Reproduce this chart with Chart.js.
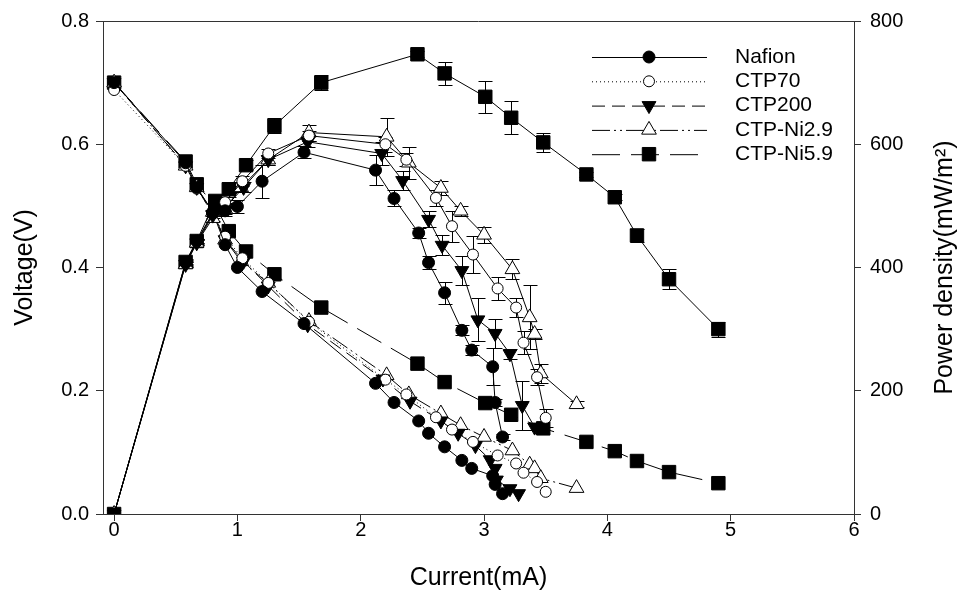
<!DOCTYPE html>
<html>
<head>
<meta charset="utf-8">
<script src="https://cdn.jsdelivr.net/npm/chart.js@4.4.0/dist/chart.umd.min.js"></script>
<style>
  html, body { margin: 0; padding: 0; background: #fff; }
</style>
</head>
<body>
<canvas id="chart" width="958" height="593"></canvas>
<script>
// tick values
const currentTicks = [0, 1, 2, 3, 4, 5, 6];
const voltageTicks = [0, 0.2, 0.4, 0.6, 0.8];
const powerTicks = [0, 200, 400, 600, 800];

// Nafion
const nafionCurrent = [0, 0.58, 0.67, 0.80, 0.90, 1.00, 1.20, 1.54, 2.12, 2.27, 2.47, 2.55, 2.68, 2.82, 2.90, 3.07, 3.09, 3.15];
const nafionVoltage = [0.700, 0.570, 0.530, 0.490, 0.437, 0.400, 0.361, 0.309, 0.212, 0.181, 0.151, 0.131, 0.109, 0.087, 0.074, 0.062, 0.048, 0.033];
const nafionPower = [0, 408, 443, 488, 492, 499, 540, 587, 558, 512, 456, 408, 359, 298, 266, 239, 181, 125];
const nafionPowerErr = [0, 4, 4, 5, 8, 10, 27, 10, 24, 13, 8, 10, 18, 8, 8, 30, 5, 5];

// CTP70
const ctp70Current = [0, 0.58, 0.67, 0.80, 0.90, 1.04, 1.25, 1.58, 2.20, 2.37, 2.61, 2.74, 2.91, 3.11, 3.26, 3.32, 3.43, 3.50];
const ctp70Voltage = [0.688, 0.565, 0.528, 0.488, 0.450, 0.415, 0.375, 0.312, 0.218, 0.194, 0.157, 0.137, 0.117, 0.095, 0.082, 0.067, 0.052, 0.036];
const ctp70Power = [0, 407, 442, 488, 506, 540, 585, 614, 600, 575, 513, 467, 421, 366, 335, 278, 222, 156];
const ctp70PowerErr = [0, 4, 4, 5, 8, 8, 8, 8, 12, 10, 13, 25, 30, 19, 16, 19, 13, 15];

// CTP200
const ctp200Current = [0, 0.58, 0.67, 0.80, 0.90, 1.05, 1.25, 1.57, 2.17, 2.34, 2.55, 2.66, 2.82, 2.95, 3.09, 3.21, 3.31, 3.41];
const ctp200Power = [0, 405, 440, 485, 497, 530, 575, 604, 585, 541, 478, 436, 395, 315, 293, 260, 176, 141];
const ctp200PowerErr = [0, 4, 4, 5, 8, 8, 8, 8, 19, 15, 13, 16, 23, 35, 24, 8, 40, 5];
const ctp200VoltCurrent = [0, 0.58, 0.67, 0.80, 0.90, 1.05, 1.25, 1.57, 2.18, 2.40, 2.65, 2.79, 2.93, 3.05, 3.09, 3.10, 3.21, 3.28];
const ctp200Voltage = [0.700, 0.565, 0.530, 0.486, 0.445, 0.410, 0.370, 0.307, 0.219, 0.183, 0.151, 0.131, 0.111, 0.088, 0.074, 0.055, 0.041, 0.033];

// CTP-Ni2.9
const ni29Current = [0, 0.58, 0.67, 0.80, 0.90, 1.03, 1.25, 1.58, 2.21, 2.39, 2.65, 2.81, 3.00, 3.23, 3.37, 3.41, 3.46, 3.75];
const ni29Voltage = [0.700, 0.565, 0.530, 0.490, 0.445, 0.410, 0.375, 0.313, 0.225, 0.194, 0.163, 0.144, 0.125, 0.103, 0.080, 0.074, 0.058, 0.042];
const ni29Power = [0, 405, 440, 480, 495, 530, 575, 619, 612, 570, 529, 492, 453, 397, 319, 292, 228, 178];
const ni29PowerErr = [0, 4, 4, 5, 8, 8, 8, 13, 31, 26, 12, 8, 13, 16, 52, 8, 16, 5];

// CTP-Ni5.9
const ni59Current = [0, 0.58, 0.67, 0.82, 0.93, 1.07, 1.30, 1.68, 2.46, 2.68, 3.01, 3.22, 3.48, 3.83, 4.06, 4.24, 4.50, 4.90];
const ni59Voltage = [0.700, 0.572, 0.535, 0.500, 0.459, 0.426, 0.389, 0.335, 0.244, 0.214, 0.180, 0.161, 0.139, 0.117, 0.102, 0.086, 0.068, 0.050];
const ni59Power = [0, 409, 443, 508, 527, 566, 630, 700, 746, 715, 677, 643, 603, 551, 514, 452, 381, 300];
const ni59PowerErr = [0, 4, 4, 5, 12, 8, 12, 12, 5, 19, 26, 27, 16, 4, 5, 10, 16, 12];

// marker / line look for each sample
const styles = {
  nafion: { label: 'Nafion', shape: 'circle', rot: 0, r: 6, fill: '#000', dash: [] },
  ctp70: { label: 'CTP70', shape: 'circle', rot: 0, r: 5.5, fill: '#fff', dash: [1, 3] },
  ctp200: { label: 'CTP200', shape: 'triangle', rot: 180, r: 8, fill: '#000', dash: [13, 7] },
  ni29: { label: 'CTP-Ni2.9', shape: 'triangle', rot: 0, r: 8.5, fill: '#fff', dash: [18, 4, 2, 4, 2, 4] },
  ni59: { label: 'CTP-Ni5.9', shape: 'rect', rot: 0, r: 9.5, fill: '#000', dash: [28, 11] },
};

function pts(xs, ys) {
  return xs.map((x, i) => ({ x: x, y: ys[i] }));
}

function makeSet(st, data, axis, dash, errors) {
  return {
    label: st.label,
    data: data,
    yAxisID: axis,
    showLine: true,
    borderColor: '#000',
    borderWidth: 1,
    borderDash: dash,
    backgroundColor: st.fill,
    pointStyle: st.shape,
    pointRotation: st.rot,
    pointRadius: st.r,
    pointBorderColor: '#000',
    pointBackgroundColor: st.fill,
    pointBorderWidth: 1,
    errors: errors,
  };
}

const datasets = [
  // power density curves (solid lines, with error bars)
  makeSet(styles.nafion, pts(nafionCurrent, nafionPower), 'y1', [], nafionPowerErr),
  makeSet(styles.ctp70, pts(ctp70Current, ctp70Power), 'y1', [], ctp70PowerErr),
  makeSet(styles.ctp200, pts(ctp200Current, ctp200Power), 'y1', [], ctp200PowerErr),
  makeSet(styles.ni29, pts(ni29Current, ni29Power), 'y1', [], ni29PowerErr),
  makeSet(styles.ni59, pts(ni59Current, ni59Power), 'y1', [], ni59PowerErr),
  // voltage curves
  makeSet(styles.nafion, pts(nafionCurrent, nafionVoltage), 'y', styles.nafion.dash),
  makeSet(styles.ctp70, pts(ctp70Current, ctp70Voltage), 'y', styles.ctp70.dash),
  makeSet(styles.ctp200, pts(ctp200VoltCurrent, ctp200Voltage), 'y', styles.ctp200.dash),
  makeSet(styles.ni29, pts(ni29Current, ni29Voltage), 'y', styles.ni29.dash),
  makeSet(styles.ni59, pts(ni59Current, ni59Voltage), 'y', styles.ni59.dash),
];

// error bars drawn under the markers
const errorBarPlugin = {
  id: 'errorBars',
  beforeDatasetsDraw(chart, args, opts) {
    const ctx = chart.ctx;
    ctx.save();
    ctx.strokeStyle = '#000';
    ctx.lineWidth = 1;
    chart.data.datasets.forEach((ds, di) => {
      if (!ds.errors) return;
      const meta = chart.getDatasetMeta(di);
      const yScale = chart.scales[meta.yAxisID];
      meta.data.forEach((el, i) => {
        const e = ds.errors[i];
        if (!e) return;
        const v = ds.data[i].y;
        const top = Math.round(yScale.getPixelForValue(v + e)) + 0.5;
        const bot = Math.round(yScale.getPixelForValue(v - e)) + 0.5;
        const x = Math.round(el.x) + 0.5;
        ctx.beginPath();
        ctx.moveTo(x, top); ctx.lineTo(x, bot);
        ctx.moveTo(x - opts.cap, top); ctx.lineTo(x + opts.cap, top);
        ctx.moveTo(x - opts.cap, bot); ctx.lineTo(x + opts.cap, bot);
        ctx.stroke();
      });
    });
    ctx.restore();
  }
};

// top frame line + right axis title (reads bottom to top)
const framePlugin = {
  id: 'frame',
  afterDraw(chart, args, opts) {
    const ctx = chart.ctx;
    const a = chart.chartArea;
    ctx.save();
    ctx.strokeStyle = '#333';
    ctx.lineWidth = 1;
    ctx.beginPath();
    ctx.moveTo(a.left, a.top + 0.5);
    ctx.lineTo(a.right, a.top + 0.5);
    ctx.stroke();
    const s = chart.scales.y1;
    ctx.translate(s.right - opts.titleOffset, (a.top + a.bottom) / 2);
    ctx.rotate(-Math.PI / 2);
    ctx.fillStyle = '#000';
    ctx.font = opts.font;
    ctx.textAlign = 'center';
    ctx.textBaseline = 'middle';
    ctx.fillText(opts.title, 0, 0);
    ctx.restore();
  }
};

// legend with line style and marker
const legendPlugin = {
  id: 'sampleLegend',
  afterDraw(chart, args, opts) {
    const ctx = chart.ctx;
    ctx.save();
    opts.items.forEach((st, i) => {
      const y = opts.top + i * opts.rowGap;
      ctx.strokeStyle = '#000';
      ctx.lineWidth = 1;
      ctx.setLineDash(st.dash);
      ctx.beginPath();
      ctx.moveTo(opts.lineStart, y + 0.5);
      ctx.lineTo(opts.lineEnd, y + 0.5);
      ctx.stroke();
      ctx.setLineDash([]);
      ctx.fillStyle = st.fill;
      Chart.helpers.drawPoint(ctx, {
        pointStyle: st.shape, rotation: st.rot, radius: st.r, borderWidth: 1
      }, opts.marker, y);
      ctx.fillStyle = '#000';
      ctx.font = opts.font;
      ctx.textAlign = 'left';
      ctx.textBaseline = 'middle';
      ctx.fillText(st.label, opts.textX, y);
    });
    ctx.restore();
  }
};

Chart.defaults.font.family = "'Liberation Sans', Arial, sans-serif";
Chart.defaults.color = '#000';

const axisLine = { display: true, color: '#333', width: 1 };
const tickGrid = { drawOnChartArea: false, drawTicks: true, tickLength: 7, color: '#333' };

new Chart(document.getElementById('chart'), {
  type: 'scatter',
  data: { datasets: datasets },
  options: {
    responsive: false,
    animation: false,
    devicePixelRatio: 1,
    layout: { padding: { top: 19, left: 0, right: 0, bottom: 0 } },
    plugins: {
      legend: { display: false },
      tooltip: { enabled: false },
      errorBars: { cap: 7 },
      frame: { title: 'Power density(mW/m²)', font: "25px 'Liberation Sans', Arial, sans-serif", titleOffset: 13 },
      sampleLegend: {
        items: [styles.nafion, styles.ctp70, styles.ctp200, styles.ni29, styles.ni59],
        top: 57, rowGap: 24.3, lineStart: 592, lineEnd: 707, marker: 649, textX: 735,
        font: "21px 'Liberation Sans', Arial, sans-serif"
      }
    },
    scales: {
      x: {
        type: 'linear',
        position: 'bottom',
        min: -0.09,
        max: 6,
        afterFit: s => { s.height = 79; },
        afterBuildTicks: s => { s.ticks = currentTicks.map(v => ({ value: v })); },
        grid: tickGrid,
        border: axisLine,
        ticks: { font: { size: 20 }, padding: -3, maxRotation: 0, callback: v => String(v) },
        title: { display: true, text: 'Current(mA)', font: { size: 25 }, padding: { top: 0, bottom: 0 } }
      },
      y: {
        type: 'linear',
        position: 'left',
        min: 0,
        max: 0.8,
        afterFit: s => { s.width = 103; },
        afterBuildTicks: s => { s.ticks = voltageTicks.map(v => ({ value: v })); },
        grid: tickGrid,
        border: axisLine,
        ticks: { font: { size: 20 }, padding: 7, callback: v => v.toFixed(1) },
        title: { display: true, text: 'Voltage(V)', font: { size: 25 }, padding: { top: 10, bottom: 0 } }
      },
      y1: {
        type: 'linear',
        position: 'right',
        min: 0,
        max: 800,
        afterFit: s => { s.width = 104; },
        afterBuildTicks: s => { s.ticks = powerTicks.map(v => ({ value: v })); },
        grid: tickGrid,
        border: axisLine,
        ticks: { font: { size: 20 }, padding: 9, callback: v => String(v) }
      }
    }
  },
  plugins: [errorBarPlugin, framePlugin, legendPlugin]
});
</script>
</body>
</html>
